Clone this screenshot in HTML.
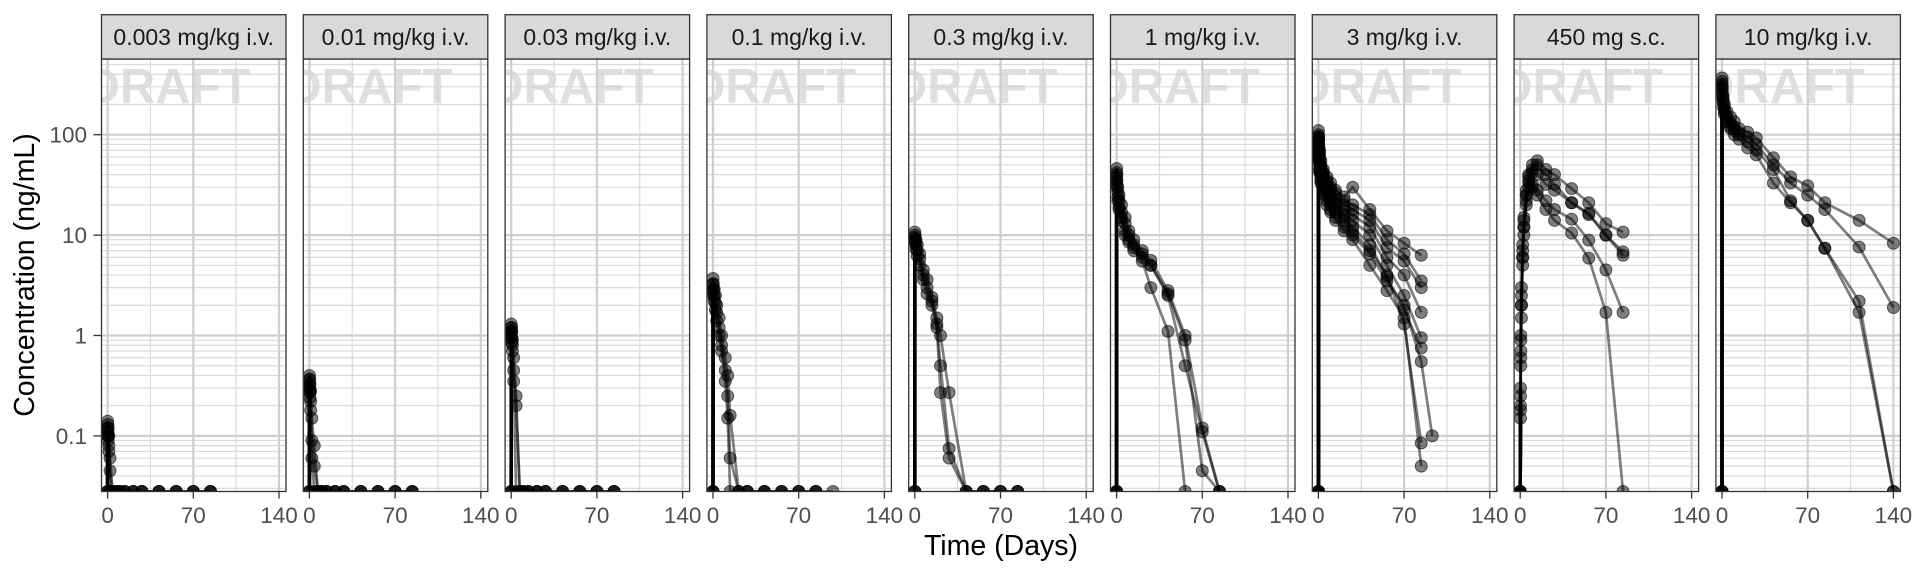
<!DOCTYPE html>
<html><head><meta charset="utf-8"><style>
html,body{margin:0;padding:0;background:#fff;}
svg{display:block;font-family:"Liberation Sans",sans-serif;}
</style></head><body>
<svg id="chart" width="1920" height="576" viewBox="0 0 1920 576"></svg>
<script>
// ---- data ----
const panelLabels = ["0.003 mg/kg i.v.","0.01 mg/kg i.v.","0.03 mg/kg i.v.","0.1 mg/kg i.v.","0.3 mg/kg i.v.","1 mg/kg i.v.","3 mg/kg i.v.","450 mg s.c.","10 mg/kg i.v."];
const xTicks = [0,70,140];
const xMinor = [35,105];
const yTicks = [0.1,1,10,100];
const yTickLabels = ["0.1","1","10","100"];
const timesLow = [0,0.04,0.25,0.5,1,2,4,7,10,14,21,28,42,56,70,84];
const conc1 = [
 [0,0.14,0.13,0.12,0.1,0.06,0,0,0,0,0,0,0,0,0,0],
 [0,0.12,0.11,0.1,0.08,0.045,0,0,0,0,0,0,0,0,0,0],
 [0,0.11,0.1,0.09,0.07,0,0,0,0,0,0,0,0,0,0,0]];
const conc2 = [
 [0,0.4,0.37,0.33,0.28,0.15,0.08,0,0,0,0,0,0,0,0,0],
 [0,0.36,0.32,0.28,0.22,0.09,0.05,0,0,0,0,0,0,0,0,0],
 [0,0.3,0.27,0.24,0.18,0.06,0,0,0,0,0,0,0,0,0,0]];
const conc3 = [
 [0,1.3,1.2,1.1,0.9,0.6,0.25,0,0,0,0,0,0,0,0,0],
 [0,1.2,1.1,0.95,0.8,0.45,0.2,0,0,0,0,0,0,0,0,0],
 [0,1.05,0.95,0.85,0.7,0.35,0,0,0,0,0,0,0,0,0,0]];
const times4 = [0,0.04,0.25,1,2,3,5,7,10,12,14,21,28,42,56,70,84,98];
const conc4 = [
 [0,3.7,3.3,2.9,2.5,2,1.5,1,0.6,0.4,0.16,0,0,0,0,0,0,0],
 [0,3.2,2.9,2.5,2.1,1.7,1.2,0.8,0.45,0.25,0.06,0,0,0,0,0,0,null],
 [0,2.8,2.5,2.2,1.8,1.4,1,0.7,0.35,0.15,0,0,0,0,0,0,0,null]];
const times5 = [0,0.04,0.25,1,2,4,7,10,14,18,21,28,42,56,70,84];
const conc5 = [
 [0,10.7,10,9,8,6.5,4.5,3.6,2.4,1.5,1.0,0.27,0,0,0,0],
 [0,9.5,9,8,7,5.8,4,3,2.2,1.3,0.5,0.075,0,0,0,0],
 [0,9,8.3,7.2,6.2,5,3.6,2.6,2,1.2,0.27,0.06,0,0,0,0]];
const times6 = [0,0.04,0.25,1,2,4,7,10,14,21,28,42,56,70,84];
const conc6 = [
 [0,46,40,30,25,20,15,11,9,7,5.6,2.8,1.0,0.12,0],
 [0,42,35,27,22,17,13,10,8,6.5,5,2.6,0.9,0.045,0],
 [0,38,32,24,19,15,11,8.5,7,5.5,3.0,1.1,0,null,null],
 [0,35,30,22,18,14,10,9,7.5,6,5,2.5,0.5,0.11,0]];
const times7 = [0,0.04,0.25,1,2,4,7,10,14,21,28,42,56,70,84,93];
const conc7 = [
 [0,110,95,70,55,45,38,33,28,24,30,18,11,8.3,6.3,null],
 [0,100,88,65,50,42,35,30,26,22,20,16,9,6.5,3.5,null],
 [0,95,80,60,48,40,33,28,24,20,18,14,7.5,5.5,3.0,null],
 [0,90,75,55,45,38,30,25,21,18,16,12,6,4,1.7,null],
 [0,85,70,52,42,35,28,23,20,16,14,10,5,2.5,0.95,null],
 [0,80,66,50,40,32,26,21,18,15,12,8,3.8,1.8,0.75,null],
 [0,75,62,46,37,30,24,20,17,14,11,7,4,1.3,0.085,null],
 [0,72,60,44,35,28,22,18,15,12,10,6.5,3.5,2.0,0.55,0.1],
 [0,68,56,42,33,26,20,17,14,11,9,5,2.8,1.5,0.05,null]];
const times8 = [0,0.25,0.5,1,2,3,5,7,10,14,21,28,42,56,70,84];
const conc8 = [
 [0,0.15,0.5,1.5,5,10,20,35,45,55,45,40,29,21,13,10.7],
 [0,0.2,0.7,2,6,12,25,40,50,50,40,32,21,16.5,10,6.8],
 [0,0.3,1,3,8,15,28,38,42,40,32,28,21,16,10,6.3],
 [0,0.18,0.6,2,6,12,22,30,32,28,22,18,14.4,8.9,4.5,1.7],
 [0,0.25,0.9,2.5,7,14,25,33,30,25,18,14,10.5,5.9,1.7,0]];
const times9 = [0,0.04,0.25,1,2,4,7,10,14,21,28,42,56,70,84,112,140];
const conc9 = [
 [0,367,300,240,200,170,150,135,115,106,93,59,38,31,21,14,8.3],
 [0,340,280,220,180,150,130,120,105,95,80,50,33,25,18,7.6,1.9],
 [0,320,260,210,170,140,120,110,100,85,70,45,22,14,7.4,2.2,0],
 [0,300,240,190,160,135,115,100,90,74,63,33,21,14,7.4,1.7,0]];
const panelTimes = [timesLow,timesLow,timesLow,times4,times5,times6,times7,times8,times9];
const panelConc = [conc1,conc2,conc3,conc4,conc5,conc6,conc7,conc8,conc9];

// ---- layout ----
const NS="http://www.w3.org/2000/svg";
const svg=document.getElementById('chart');
const P0=101.5, PW=184.5, PITCH=201.8, STOP=14.7, SBOT=59, PBOT=491.5;
const X0OFF=6.1, XPX=85.7/70;
const Y100=134.7, DEC=100.4;
function yScale(c){ if(!c) return PBOT; return Y100+(2-Math.log10(c))*DEC; }
function xScale(i,t){ return P0+i*PITCH+X0OFF+t*XPX; }
function mk(tag,attrs,parent){const e=document.createElementNS(NS,tag);for(const k in attrs)e.setAttribute(k,attrs[k]);(parent||svg).appendChild(e);return e;}

const defs=mk('defs',{});
panelLabels.forEach((lab,i)=>{
  const L=P0+i*PITCH;
  const cp=mk('clipPath',{id:'cp'+i},defs);
  mk('rect',{x:L,y:SBOT,width:PW,height:PBOT-SBOT},cp);
  const g=mk('g',{});
  
  
  const grid=mk('g',{'clip-path':'url(#cp'+i+')'},g);
  
  
  for(let e=-2;e<=2;e++){for(let k=2;k<=9;k++){const y=yScale(k*Math.pow(10,e)); if(y>SBOT&&y<PBOT) mk('line',{x1:L,x2:L+PW,y1:y,y2:y,stroke:'#dadada','stroke-width':1.2},grid);}}
  xMinor.forEach(t=>{const x=xScale(i,t);mk('line',{x1:x,x2:x,y1:SBOT,y2:PBOT,stroke:'#dadada','stroke-width':1.2},grid);});
  yTicks.forEach(v=>{const y=yScale(v);mk('line',{x1:L,x2:L+PW,y1:y,y2:y,stroke:'#cfcfcf','stroke-width':2.2},grid);});
  xTicks.forEach(t=>{const x=xScale(i,t);mk('line',{x1:x,x2:x,y1:SBOT,y2:PBOT,stroke:'#cfcfcf','stroke-width':2.2},grid);});
  const wm=mk('text',{x:L-17,y:103,'font-size':49,'font-weight':'bold',fill:'#d4d4d4','fill-opacity':0.75,'clip-path':'url(#cp'+i+')'},g);
  wm.textContent='DRAFT';
  
  
  const sg=mk('g',{'clip-path':'url(#cp'+i+')'},g);
  
  
  const times=panelTimes[i];
  panelConc[i].forEach((arr,s)=>{
    const pts=[];
    arr.forEach((c,j)=>{ if(c===null) return; pts.push([xScale(i,times[j]),yScale(c)]); });
    const pl=mk('polyline',{points:pts.map(p=>p.join(',')).join(' '),fill:'none',stroke:'#000','stroke-opacity':0.5,'stroke-width':2.7},sg);
    
    
    if(pts.length>1){
      const vl=mk('line',{x1:pts[0][0],y1:pts[0][1],x2:pts[1][0],y2:pts[1][1],stroke:'#000','stroke-width':3.5},sg);
      
      
    }
    pts.forEach(p=>{
      const c=mk('circle',{cx:p[0],cy:p[1],r:6,fill:'#000','fill-opacity':0.5,stroke:'#000','stroke-opacity':0.55,'stroke-width':1},sg);
      
      
    });
  });
  const bd=mk('rect',{x:L,y:SBOT,width:PW,height:PBOT-SBOT,fill:'none',stroke:'#333','stroke-width':1.3},g);
  
  
  const st=mk('rect',{x:L,y:STOP,width:PW,height:SBOT-STOP,fill:'#d9d9d9',stroke:'#333','stroke-width':1.3},g);
  
  
  const sl=mk('text',{x:L+PW/2,y:45,'font-size':23,'text-anchor':'middle',fill:'#1a1a1a'},g);
  sl.textContent=lab;
  
  
  xTicks.forEach(t=>{
    const x=xScale(i,t);
    const tk=mk('line',{x1:x,x2:x,y1:PBOT,y2:PBOT+7,stroke:'#333','stroke-width':1.3},g);
    
    
    const tl=mk('text',{x:x,y:523,'font-size':22.5,'text-anchor':'middle',fill:'#4d4d4d'},g);
    tl.textContent=String(t);
    
    
  });
});
yTicks.forEach((v,k)=>{
  const y=yScale(v);
  const tk=mk('line',{x1:P0-8,x2:P0,y1:y,y2:y,stroke:'#333','stroke-width':1.3});
  
  
  const tl=mk('text',{x:87,y:y+8,'font-size':22.5,'text-anchor':'end',fill:'#4d4d4d'});
  tl.textContent=yTickLabels[k];
  
  
});
const yt=mk('text',{x:0,y:0,'font-size':28.5,'text-anchor':'middle',fill:'#000',transform:'translate(34,275) rotate(-90)'});
yt.textContent='Concentration (ng/mL)';


const xt=mk('text',{x:1001,y:555,'font-size':28.5,'text-anchor':'middle',fill:'#000'});
xt.textContent='Time (Days)';


</script>
</body></html>
